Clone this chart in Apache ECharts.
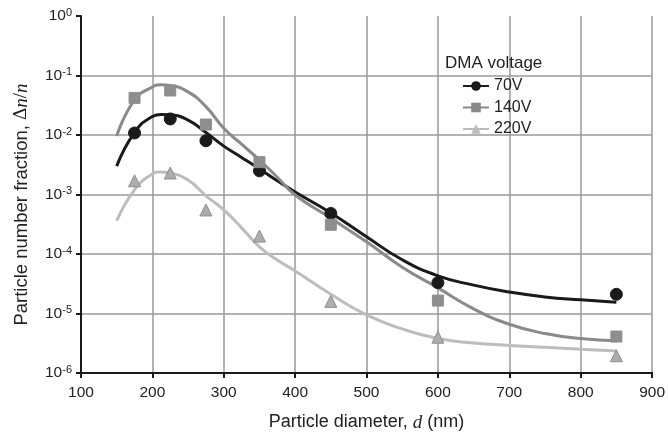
<!DOCTYPE html>
<html>
<head>
<meta charset="utf-8">
<script src="https://cdn.jsdelivr.net/npm/echarts@6/dist/echarts.min.js"></script>
<style>
  html, body { margin: 0; padding: 0; background: #fff; }
  #chart { width: 668px; height: 437px; }
</style>
</head>
<body>
<div id="chart"></div>
<script>
// measured points (Δn/n) at each particle diameter
const ptX = [175, 225, 275, 350, 450, 600, 850]
const pts70 = [1.08e-2, 1.86e-2, 8.0e-3, 2.5e-3, 4.8e-4, 3.3e-5, 2.1e-5]
const pts140 = [4.2e-2, 5.6e-2, 1.5e-2, 3.5e-3, 3.1e-4, 1.65e-5, 4.1e-6]
const pts220 = [1.7e-3, 2.3e-3, 5.5e-4, 2.0e-4, 1.6e-5, 4.0e-6, 1.95e-6]

// fitted curves
const fitX = [150, 175, 200, 212, 225, 250, 275, 300, 325, 350, 375, 400, 450, 500, 550, 600, 650, 700, 750, 800, 850]
const fit70 = [3.0e-3, 1.1e-2, 2.05e-2, 2.22e-2, 2.18e-2, 1.78e-2, 1.1e-2, 6.5e-3, 4.2e-3, 2.7e-3, 1.7e-3, 1.1e-3, 4.9e-4, 1.95e-4, 8.0e-5, 4.3e-5, 3.0e-5, 2.3e-5, 1.9e-5, 1.7e-5, 1.55e-5]
const fit140 = [9.6e-3, 3.9e-2, 6.4e-2, 7.0e-2, 6.8e-2, 5.3e-2, 3.0e-2, 1.3e-2, 7.0e-3, 3.8e-3, 1.95e-3, 9.8e-4, 4.0e-4, 1.6e-4, 6.0e-5, 2.7e-5, 1.2e-5, 6.6e-6, 4.6e-6, 3.8e-6, 3.5e-6]
const fit220 = [3.6e-4, 1.2e-3, 2.2e-3, 2.4e-3, 2.3e-3, 1.75e-3, 9.5e-4, 5.5e-4, 2.75e-4, 1.32e-4, 7.9e-5, 5.2e-5, 2.1e-5, 9.5e-6, 5.5e-6, 3.8e-6, 3.2e-6, 2.9e-6, 2.7e-6, 2.5e-6, 2.35e-6]

const seriesNames = ['70V', '140V', '220V']
const xTicks = [100, 200, 300, 400, 500, 600, 700, 800, 900]

const font = "'Liberation Sans', Arial, sans-serif"
const serif = "'Liberation Serif', serif"
const zip = (xs, ys) => xs.map((x, i) => [x, ys[i]])

const chart = echarts.init(document.getElementById('chart'))

function fitLine(name, data, color, symbol) {
  return {
    name: name,
    type: 'line',
    data: zip(fitX, data),
    smooth: 0.5,
    symbol: symbol,
    showSymbol: false,
    symbolSize: 10,
    lineStyle: { color: color, width: 3 },
    itemStyle: { color: color },
    z: 2,
    silent: true
  }
}

function points(name, data, color, symbol, size, border) {
  return {
    name: name + ' data',
    type: 'scatter',
    data: zip(ptX, data),
    symbol: symbol,
    symbolSize: size,
    itemStyle: { color: color, borderColor: border || color, borderWidth: 1, opacity: 1 },
    z: 3
  }
}

chart.setOption({
  animation: false,
  textStyle: { fontFamily: font },
  title: {
    text: 'DMA voltage',
    left: 440,
    top: 50,
    textStyle: { fontFamily: font, fontSize: 17, fontWeight: 'normal', color: '#222' }
  },
  legend: {
    data: seriesNames,
    orient: 'vertical',
    left: 457,
    top: 73,
    itemWidth: 26,
    itemHeight: 12,
    itemGap: 5.5,
    textStyle: { fontFamily: font, fontSize: 16, lineHeight: 16, color: '#222' }
  },
  grid: { left: 81, right: 15, top: 16, bottom: 64 },
  xAxis: {
    type: 'value',
    min: 100,
    max: 900,
    interval: 100,
    name: 'Particle diameter, {i|d} (nm)',
    nameLocation: 'middle',
    nameGap: 40,
    nameTextStyle: {
      fontFamily: font, fontSize: 18, color: '#222',
      rich: { i: { fontFamily: serif, fontStyle: 'italic', fontSize: 19, color: '#222' } }
    },
    axisLine: { lineStyle: { color: '#1a1a1a', width: 2 } },
    axisTick: { show: true, length: 5, lineStyle: { color: '#1a1a1a', width: 2 } },
    axisLabel: {
      fontFamily: font, fontSize: 15.5, color: '#222', margin: 12,
      customValues: xTicks
    },
    splitLine: { show: true, lineStyle: { color: '#9a9a9a', width: 1.5 } }
  },
  yAxis: {
    type: 'log',
    logBase: 10,
    min: 1e-6,
    max: 1,
    name: 'Particle number fraction, {m|Δ}{i|n}{m|/}{i|n}',
    nameLocation: 'middle',
    nameRotate: 90,
    nameGap: 50,
    nameTextStyle: {
      fontFamily: font, fontSize: 18.5, color: '#222',
      padding: [0, 20, 0, 0],
      rich: {
        m: { fontFamily: serif, fontSize: 19, color: '#222' },
        i: { fontFamily: serif, fontStyle: 'italic', fontSize: 19, color: '#222' }
      }
    },
    axisLine: { show: true, lineStyle: { color: '#1a1a1a', width: 2 } },
    axisTick: { show: true, length: 5, lineStyle: { color: '#1a1a1a', width: 2 } },
    axisLabel: {
      fontFamily: font, fontSize: 15.5, color: '#222', margin: 9,
      formatter: function (v) {
        const e = Math.round(Math.log10(v))
        return '10{sup|' + e + '}'
      },
      rich: {
        sup: { fontFamily: font, fontSize: 11, color: '#222', verticalAlign: 'bottom', padding: [0, 0, 7, 0] }
      }
    },
    splitLine: { show: true, showMaxLine: false, lineStyle: { color: '#9a9a9a', width: 1.5 } }
  },
  series: [
    fitLine('70V', fit70, '#1a1a1a', 'circle'),
    fitLine('140V', fit140, '#8a8a8a', 'rect'),
    fitLine('220V', fit220, '#bdbdbd', 'triangle'),
    points('70V', pts70, '#1a1a1a', 'circle', 12),
    points('140V', pts140, '#8e8e8e', 'rect', 11),
    points('220V', pts220, '#adadad', 'triangle', 12, '#8e8e8e')
  ]
})
</script>
</body>
</html>
